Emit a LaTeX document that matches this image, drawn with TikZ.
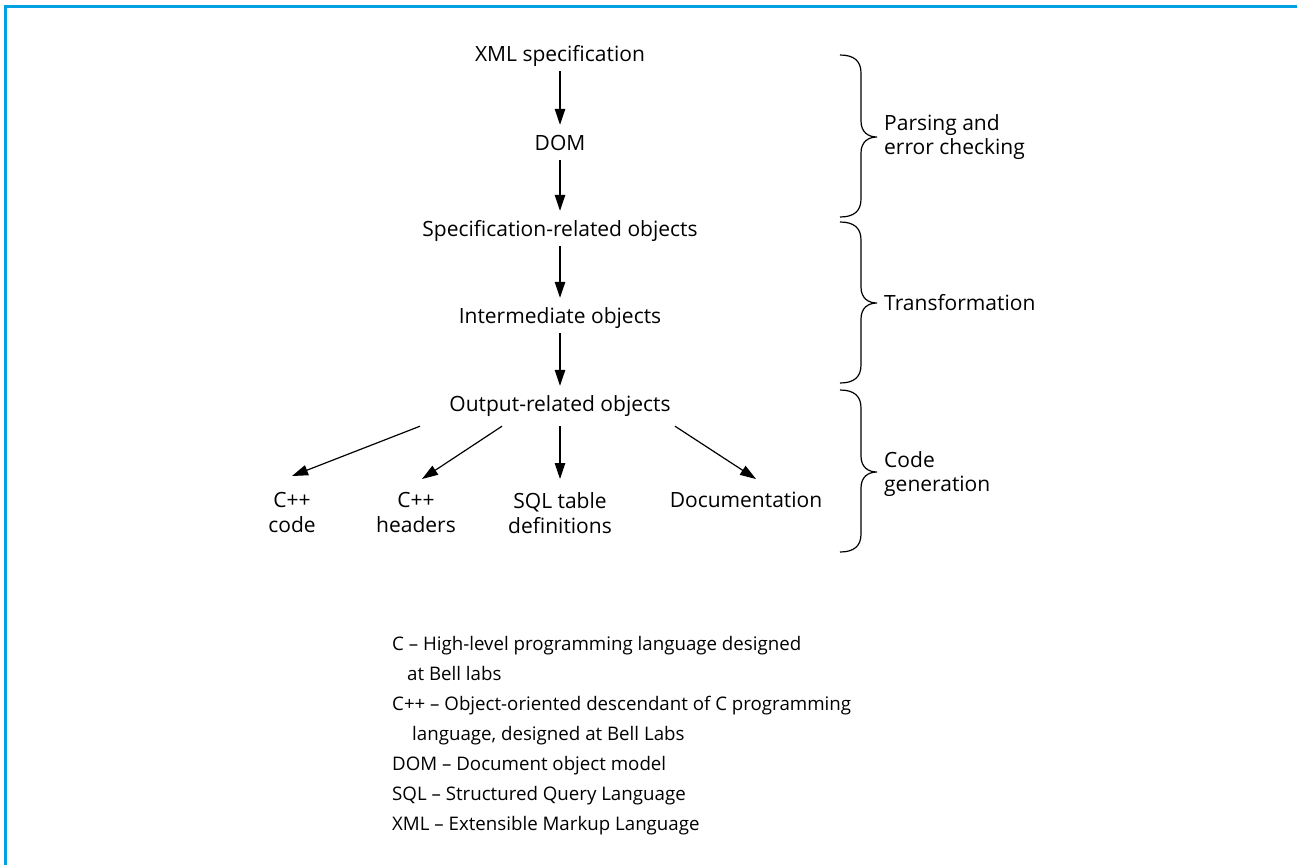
\documentclass[tikz,border=0pt]{standalone}
\usepackage{fontspec}
\setmainfont{Open Sans}
\usetikzlibrary{arrows.meta}
\definecolor{framebl}{RGB}{0,160,227}

\begin{document}
\begin{tikzpicture}[x=1pt, y=-1pt,
    stage/.style={font=\fontsize{21}{25}\selectfont, text height=15pt, text depth=0pt, inner xsep=0pt, inner ysep=10pt, anchor=base},
    leaf/.style={font=\fontsize{21}{25}\selectfont, align=center, inner xsep=0pt, inner ysep=13pt, anchor=north},
    tag/.style={font=\fontsize{21}{24}\selectfont, align=left, inner sep=0pt, anchor=west},
    gloss/.style={font=\fontsize{18.7}{30}\selectfont, align=left, inner sep=0pt, anchor=north west},
    flow/.style={-{Triangle[length=16pt,width=10.5pt]}, line width=1.2pt},
    brc/.style={line width=1.2pt}]
    \useasboundingbox (0,0) rectangle (1297,865);
    \draw[framebl, line width=3pt] (5.3,865) -- (5.3,6.7) -- (1297,6.7);

    % Processing chain
    \node[stage] (xml) at (560,61) {XML specification};
    \node[stage] (dom) at (560,150) {DOM};
    \node[stage] (spec) at (560,236) {Specification-related objects};
    \node[stage] (inter) at (560,323) {Intermediate objects};
    \node[stage] (out) at (560,411) {Output-related objects};

    \draw[flow] (xml) -- (dom);
    \draw[flow] (dom) -- (spec);
    \draw[flow] (spec) -- (inter);
    \draw[flow] (inter) -- (out);

    % Generated artefacts
    \node[leaf] (code) at (292,479) {C++\\code};
    \node[leaf] (hdr) at (416,479) {C++\\headers};
    \node[leaf] (sql) at (560,479) {SQL table\\definitions};
    \node[leaf] (doc) at (746,479) {Documentation};

    \draw[flow] ([xshift=-140pt,yshift=-5pt]out.south) -- ([yshift=3pt]code.north);
    \draw[flow] ([xshift=-58pt,yshift=-5pt]out.south) -- ([xshift=6pt]hdr.north);
    \draw[flow] ([yshift=-5pt]out.south) -- (sql.north);
    \draw[flow] ([xshift=115pt,yshift=-5pt]out.south) -- ([xshift=10pt]doc.north);

    % Phase braces
    \foreach \ya/\ym/\yb in {55/137/217, 222/303/383, 390/472/552}
        \draw[brc] (840,\ya) .. controls (854,\ya) and (861,\ya+6) .. (861,\ya+18)
            -- (861,\ym-16) .. controls (861,\ym-5) and (868,\ym) .. (877,\ym)
            .. controls (868,\ym) and (861,\ym+5) .. (861,\ym+16)
            -- (861,\yb-18) .. controls (861,\yb-6) and (854,\yb) .. (840,\yb);

    \node[tag] (parse) at (884,137) {Parsing and\\error checking};
    \node[tag] (trans) at (884,303) {Transformation};
    \node[tag] (gen) at (884,474) {Code\\generation};

    % Abbreviations
    \node[gloss] (abbr) at (392,636) {C – High-level programming language designed\\\hspace*{15pt}at Bell labs\\C++ – Object-oriented descendant of C programming\\\hspace*{20pt}language, designed at Bell Labs\\DOM – Document object model\\SQL – Structured Query Language\\XML – Extensible Markup Language};
\end{tikzpicture}
\end{document}
